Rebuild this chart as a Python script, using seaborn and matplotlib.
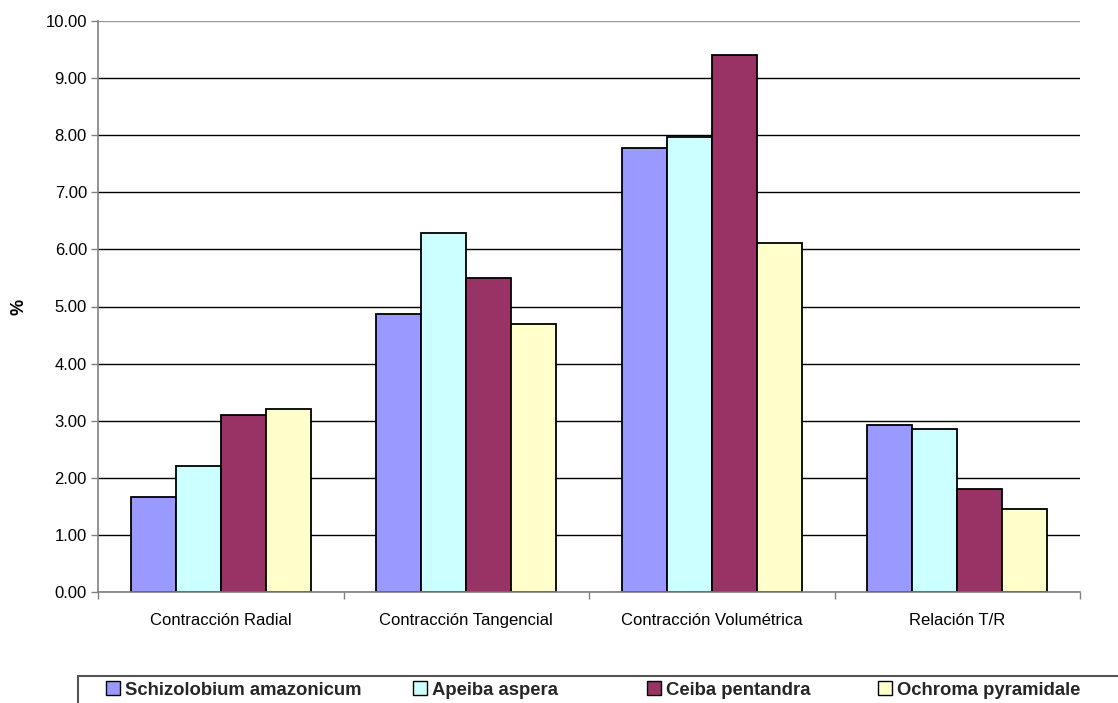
import numpy as np
import pandas as pd
import matplotlib
matplotlib.use("Agg")
import matplotlib.pyplot as plt
import matplotlib.patches as mpatches
from matplotlib.lines import Line2D
from matplotlib.ticker import FixedLocator, FormatStrFormatter
import seaborn as sns


categories = [
    "Contracción Radial",
    "Contracción Tangencial",
    "Contracción Volumétrica",
    "Relación T/R",
]

species = [
    "Schizolobium amazonicum",
    "Apeiba aspera",
    "Ceiba pentandra",
    "Ochroma pyramidale",
]

schizolobium = [1.66, 4.87, 7.77, 2.92]
apeiba = [2.20, 6.28, 7.96, 2.85]
ceiba = [3.10, 5.50, 9.41, 1.80]
ochroma = [3.20, 4.70, 6.11, 1.46]

colors = ["#9999FF", "#CCFFFF", "#993366", "#FFFFCC"]

# legend square left edge, in pixels
legend_x = [106, 413, 647, 878]


df = pd.DataFrame({
    "categoria": categories * 4,
    "especie": np.repeat(species, 4),
    "valor": schizolobium + apeiba + ceiba + ochroma,
})

sns.set_theme(style="white")
plt.rcParams["font.family"] = ["Liberation Sans", "DejaVu Sans"]

W, H = 1118, 703
fig = plt.figure(figsize=(W / 100, H / 100), dpi=100)
ax = fig.add_axes([98 / W, (H - 592) / H, (1080 - 98) / W, (592 - 21) / H])

sns.barplot(
    data=df,
    x="categoria",
    y="valor",
    hue="especie",
    order=categories,
    hue_order=species,
    palette=colors,
    width=0.733,
    edgecolor="black",
    linewidth=1.3,
    saturation=1,
    ax=ax,
)
ax.get_legend().remove()

ax.set_xlim(-0.5, 3.5)
ax.set_ylim(0, 10)
ax.set_yticks(np.arange(0, 10.01, 1))
ax.yaxis.set_major_formatter(FormatStrFormatter("%.2f"))

ax.set_axisbelow(True)
ax.yaxis.grid(True, color="black", linewidth=1)
ax.get_ygridlines()[-1].set_color("#999999")

for s in ["top", "right"]:
    ax.spines[s].set_visible(False)
ax.spines["left"].set_color("#808080")
ax.spines["bottom"].set_color("#808080")
ax.spines["left"].set_linewidth(1.2)
ax.spines["bottom"].set_linewidth(1.2)

ax.tick_params(axis="y", left=True, length=5, width=1, color="#808080",
               labelsize=12, pad=3, labelcolor="black")
ax.tick_params(axis="x", which="major", length=0, labelsize=12, pad=15,
               labelcolor="black")
ax.xaxis.set_minor_locator(FixedLocator(np.arange(-0.5, 3.6, 1)))
ax.tick_params(axis="x", which="minor", bottom=True, length=5, width=1,
               color="#808080")

ax.set_xlabel("")
ax.set_ylabel("%", fontsize=13, fontweight="bold", color="black")
ax.yaxis.set_label_coords(-0.072, 0.5)

# legend entries placed one by one
for name, col, lx in zip(species, colors, legend_x):
    patch = mpatches.Patch(facecolor=col, edgecolor="black", linewidth=1)
    fig.legend(
        handles=[patch],
        labels=[name],
        loc="center left",
        bbox_to_anchor=(lx / W, (H - 690) / H),
        frameon=False,
        borderaxespad=0,
        borderpad=0,
        handlelength=0.75,
        handleheight=0.75,
        handletextpad=0.3,
        prop={"size": 13.3, "weight": "bold"},
    )

# legend box border (top and left, box runs off the figure)
top_y = (H - 676) / H
left_x = 78 / W
fig.add_artist(Line2D([left_x, 1.0], [top_y, top_y], color="#555555",
                      linewidth=1.5, transform=fig.transFigure))
fig.add_artist(Line2D([left_x, left_x], [0.0, top_y], color="#555555",
                      linewidth=1.5, transform=fig.transFigure))

fig.savefig("out.png", dpi=100, facecolor="white")
